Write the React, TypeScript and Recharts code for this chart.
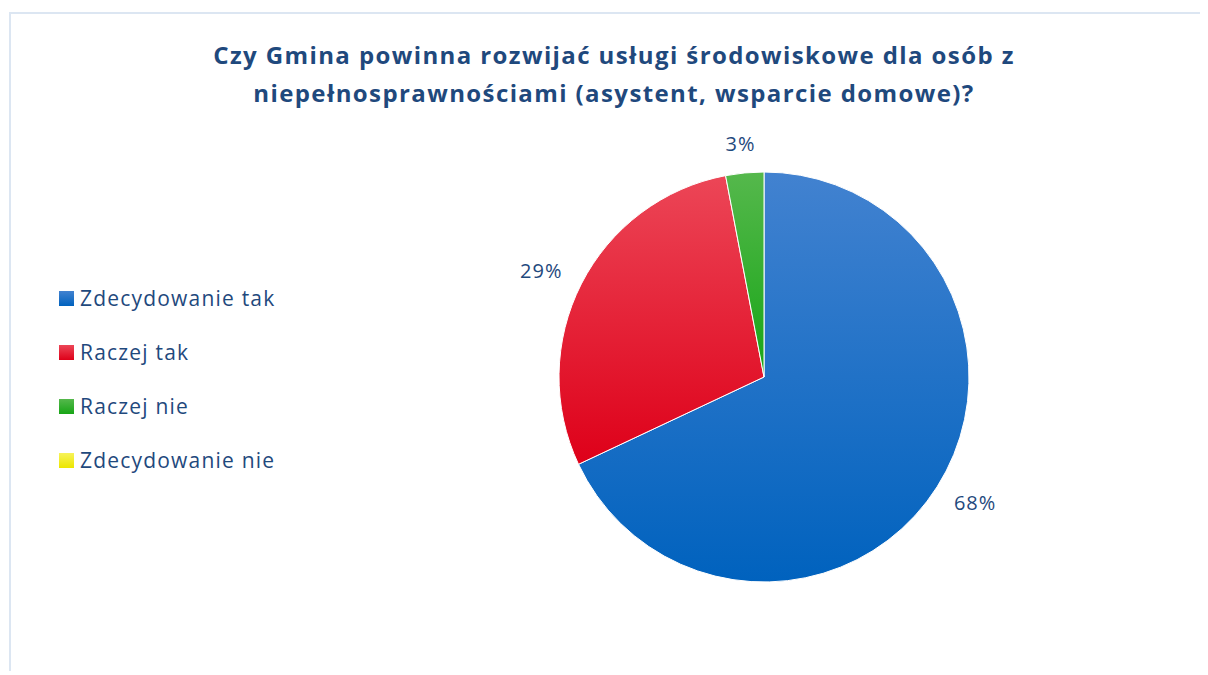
import { PieChart, Pie, Cell } from "recharts";

const categories = ["Zdecydowanie tak", "Raczej tak", "Raczej nie", "Zdecydowanie nie"];
const shares = [68, 29, 3, 0];
const title = [
  "Czy Gmina powinna rozwijać usługi środowiskowe dla osób z",
  "niepełnosprawnościami (asystent, wsparcie domowe)?",
];

const gradients = [
  { id: "gBlue", top: "#4282d0", bottom: "#0062be" },
  { id: "gRed", top: "#ec4657", bottom: "#de0019" },
  { id: "gGreen", top: "#55b84c", bottom: "#17a516" },
  { id: "gYellow", top: "#f7f35a", bottom: "#ece600" },
];

const data = categories.map((name, i) => ({ name, value: shares[i] }));

const textColor = "#1f497d";
const font = "'Open Sans', sans-serif";

const RADIAN = Math.PI / 180;

// labels sit outside the slice, pushed further sideways than up/down (like Excel's "outside end")
const renderLabel = (props: any) => {
  const { cx, cy, midAngle, outerRadius, value } = props;
  if (!value) return null;
  const x = cx + (outerRadius + 45) * Math.cos(-midAngle * RADIAN);
  const y = cy + (outerRadius + 30) * Math.sin(-midAngle * RADIAN);
  return (
    <text
      x={x}
      y={y}
      textAnchor="middle"
      dominantBaseline="central"
      fill={textColor}
      fontSize={20}
      fontFamily={font}
      letterSpacing={1}
    >
      {`${value}%`}
    </text>
  );
};

export default function App() {
  return (
    <div style={{ position: "relative", width: 1200, height: 663, overflow: "hidden" }}>
      <div
        style={{
          position: "absolute",
          left: 1,
          top: 4,
          width: 1300,
          height: 800,
          border: "2px solid #dce6f2",
        }}
      />
      <div
        style={{
          position: "absolute",
          left: 0,
          top: 28,
          width: 1212,
          textAlign: "center",
          fontFamily: font,
          fontWeight: 700,
          fontSize: 24,
          lineHeight: "38px",
          letterSpacing: 1.4,
          color: textColor,
        }}
      >
        {title.map((t) => (
          <div key={t}>{t}</div>
        ))}
      </div>
      <div style={{ position: "absolute", left: 51, top: 263, fontFamily: font }}>
        {categories.map((c, i) => (
          <div
            key={c}
            style={{
              display: "flex",
              alignItems: "center",
              height: 54,
              color: textColor,
              fontSize: 21,
              letterSpacing: 1.2,
            }}
          >
            <svg width={15} height={15} style={{ marginRight: 6 }}>
              <rect width={15} height={15} fill={`url(#${gradients[i].id})`} />
            </svg>
            {c}
          </div>
        ))}
      </div>
      <div style={{ position: "absolute", left: 0, top: 0 }}>
        <PieChart width={1200} height={663} margin={{ top: 0, right: 0, bottom: 0, left: 0 }}>
          <defs>
            {gradients.map((g) => (
              <linearGradient key={g.id} id={g.id} x1="0" y1="0" x2="0" y2="1">
                <stop offset="0%" stopColor={g.top} />
                <stop offset="100%" stopColor={g.bottom} />
              </linearGradient>
            ))}
          </defs>
          <Pie
            data={data}
            dataKey="value"
            nameKey="name"
            cx={756}
            cy={369}
            outerRadius={205}
            startAngle={90}
            endAngle={-270}
            stroke="#ffffff"
            strokeWidth={1}
            label={renderLabel}
            labelLine={false}
            isAnimationActive={false}
          >
            {data.map((d, i) => (
              <Cell key={d.name} fill={`url(#${gradients[i].id})`} />
            ))}
          </Pie>
        </PieChart>
      </div>
    </div>
  );
}
